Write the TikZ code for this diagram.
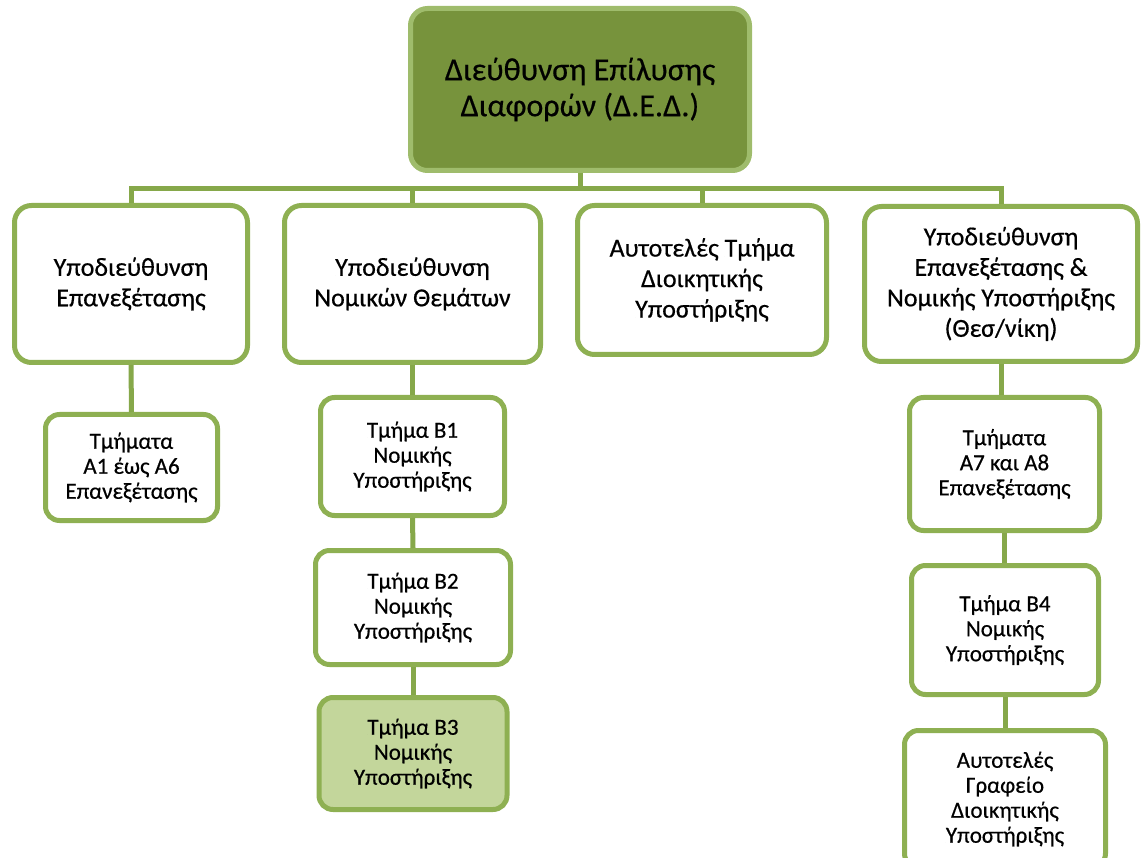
\documentclass[tikz,border=0pt]{standalone}
\usepackage{fontspec}
\setmainfont{Carlito}[FakeBold=0.5]
\definecolor{edgegreen}{HTML}{8EB052}
\definecolor{linegreen}{HTML}{86A84A}
\definecolor{headgreen}{HTML}{77933C}
\definecolor{lightgreen}{HTML}{C3D69B}

\begin{document}
\begin{tikzpicture}[x=1pt,y=-1pt,
	box/.style={draw=edgegreen,line width=5pt,rounded corners=17pt,fill=white,align=center,inner sep=0pt},
	head/.style={box,fill=headgreen,draw=edgegreen!85!white,font=\fontsize{32}{36}\selectfont},
	unit/.style={box,font=\fontsize{26}{30.5}\selectfont},
	dept/.style={box,rounded corners=14pt,font=\fontsize{23}{25}\selectfont},
	link/.style={draw=linegreen,line width=5pt}]
	\useasboundingbox (0,0) rectangle (1141,858);
	\clip (0,0) rectangle (1141,858);

	% director and the bus under it
	\node[head,minimum width=339pt,minimum height=162pt] (ded) at (580,89.5) {Διεύθυνση Επίλυσης\\Διαφορών (Δ.Ε.Δ.)};
	\coordinate (bus) at (580,189);

	% sub-directorates
	\node[unit,minimum width=233pt,minimum height=157pt] (ypA) at (131,284) {Υποδιεύθυνση\\Επανεξέτασης};
	\node[unit,minimum width=256pt,minimum height=157pt] (ypB) at (412.5,284) {Υποδιεύθυνση\\Νομικών Θεμάτων};
	\node[unit,minimum width=249pt,minimum height=149pt] (aut) at (702,280) {Αυτοτελές Τμήμα\\Διοικητικής\\Υποστήριξης};
	\node[unit,minimum width=273pt,minimum height=155pt] (ypD) at (1001,284) {Υποδιεύθυνση\\Επανεξέτασης \&\\Νομικής Υποστήριξης\\(Θεσ/νίκη)};

	% departments
	\node[dept,minimum width=172pt,minimum height=106pt] (tA) at (131.5,467.5) {Τμήματα\\Α1 έως Α6\\Επανεξέτασης};
	\node[dept,minimum width=184pt,minimum height=118pt] (tB1) at (412.5,456.5) {Τμήμα Β1\\Νομικής\\Υποστήριξης};
	\node[dept,minimum width=195pt,minimum height=114pt] (tB2) at (413,607.5) {Τμήμα Β2\\Νομικής\\Υποστήριξης};
	\node[dept,fill=lightgreen,minimum width=188pt,minimum height=112pt] (tB3) at (413,753.5) {Τμήμα Β3\\Νομικής\\Υποστήριξης};
	\node[dept,minimum width=190pt,minimum height=133pt] (tA7) at (1004.5,464) {Τμήματα\\Α7 και Α8\\Επανεξέτασης};
	\node[dept,minimum width=187pt,minimum height=129pt] (tB4) at (1005,630) {Τμήμα Β4\\Νομικής\\Υποστήριξης};
	\node[dept,minimum width=201pt,minimum height=137pt] (gr) at (1005,799) {Αυτοτελές\\Γραφείο\\Διοικητικής\\Υποστήριξης};

	% connectors
	\draw[link] (ded.south) -- (bus);
	\draw[link] (ypA.north) -- (ypA.north |- bus) -- (ypD.north |- bus) -- (ypD.north);
	\draw[link] (ypB.north) -- (ypB.north |- bus);
	\draw[link] (aut.north) -- (aut.north |- bus);
	\draw[link] (ypA.south) -- (tA.north);
	\draw[link] (ypB.south) -- (tB1.north);
	\draw[link] (tB1.south) -- (tB2.north);
	\draw[link] (tB2.south) -- (tB3.north);
	\draw[link] (ypD.south) -- (ypD.south |- tA7.north);
	\draw[link] (tA7.south) -- (tA7.south |- tB4.north);
	\draw[link] (tB4.south) -- (gr.north);
\end{tikzpicture}
\end{document}
